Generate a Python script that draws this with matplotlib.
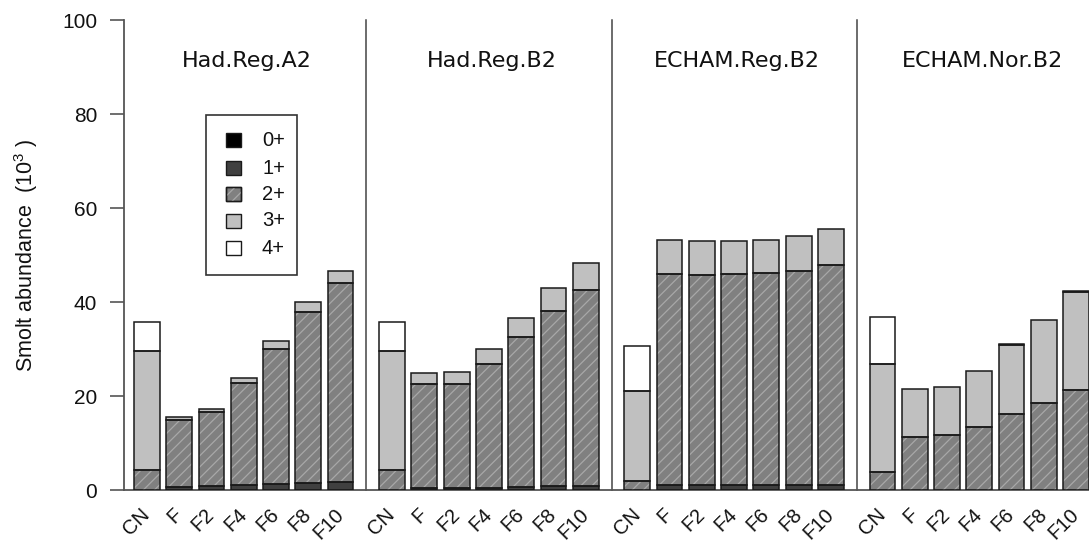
import matplotlib
matplotlib.use("Agg")
import matplotlib.pyplot as plt
from matplotlib.patches import Rectangle
import numpy as np

plt.rcParams['font.family'] = ['Liberation Sans', 'DejaVu Sans']
plt.rcParams['mathtext.fontset'] = 'custom'
plt.rcParams['mathtext.rm'] = 'Liberation Sans'
plt.rcParams['mathtext.it'] = 'Liberation Sans'
plt.rcParams['hatch.linewidth'] = 0.9

# ---------------- data ----------------
groups = ['Had.Reg.A2', 'Had.Reg.B2', 'ECHAM.Reg.B2', 'ECHAM.Nor.B2']
scenarios = ['CN', 'F', 'F2', 'F4', 'F6', 'F8', 'F10']
ages = ['0+', '1+', '2+', '3+', '4+']

# values per bar (4 groups x 7 scenarios), thousands of smolts
age0 = [0, 0.1, 0.1, 0.1, 0.1, 0.1, 0.1,
        0, 0.1, 0.1, 0.1, 0.1, 0.1, 0.1,
        0, 0.1, 0.1, 0.1, 0.1, 0.1, 0.1,
        0, 0, 0, 0, 0, 0, 0]
age1 = [0, 0.6, 0.75, 0.95, 1.2, 1.4, 1.6,
        0, 0.4, 0.4, 0.4, 0.6, 0.7, 0.8,
        0, 0.9, 0.9, 0.9, 0.9, 0.9, 0.9,
        0, 0, 0, 0, 0, 0, 0]
age2 = [4.3, 14.2, 15.65, 21.65, 28.8, 36.4, 42.3,
        4.3, 22.0, 22.1, 26.3, 31.8, 37.3, 41.6,
        2.0, 45.0, 44.7, 44.9, 45.1, 45.7, 46.9,
        3.8, 11.3, 11.6, 13.3, 16.1, 18.5, 21.2]
age3 = [25.3, 0.7, 0.8, 1.1, 1.5, 2.0, 2.5,
        25.3, 2.5, 2.5, 3.2, 4.0, 4.8, 5.7,
        19.1, 7.2, 7.3, 7.1, 7.1, 7.3, 7.7,
        23.0, 10.2, 10.3, 12.1, 14.8, 17.7, 20.9]
age4 = [6.1, 0, 0, 0, 0, 0, 0,
        6.1, 0, 0, 0, 0, 0, 0,
        9.6, 0, 0, 0, 0, 0, 0,
        10.0, 0, 0, 0, 0.2, 0, 0.2]

# ---------------- style ----------------
fills = ['#000000', '#404040', '#808080', '#c0c0c0', '#ffffff']
hatch_color = '#a8a8a8'
edge = '#1a1a1a'

W, H = 1089, 542
fig = plt.figure(figsize=(W / 100, H / 100), dpi=100)
ax = fig.add_axes([124 / W, 52 / H, 965 / W, 470 / H])

group_pitch = 7.6
bar_w = 0.8
xs = np.array([g * group_pitch + i for g in range(len(groups))
               for i in range(len(scenarios))], dtype=float)

series = [np.array(a, dtype=float) for a in (age0, age1, age2, age3, age4)]
bottom = np.zeros(len(xs))
for k, vals in enumerate(series):
    m = vals > 0
    ax.bar(xs[m], vals[m], bottom=bottom[m], width=bar_w,
           color=fills[k], linewidth=0, zorder=2)
    if k == 2:
        ax.bar(xs[m], vals[m], bottom=bottom[m], width=bar_w,
               facecolor='none', edgecolor=hatch_color, hatch='///',
               linewidth=0, zorder=3)
    ax.bar(xs[m], vals[m], bottom=bottom[m], width=bar_w,
           facecolor='none', edgecolor=edge, linewidth=1.1, zorder=4)
    bottom = bottom + vals

ax.set_xlim(-0.71, 29.2)
ax.set_ylim(0, 100)

# group separators
for g in range(1, len(groups)):
    ax.plot([g * group_pitch - 0.8] * 2, [0, 100], color='#444444',
            lw=1.1, zorder=1, clip_on=False)

# group titles (centred over each group of bars)
for g, name in enumerate(groups):
    ax.text(g * group_pitch + 3.1, 90.1, name, ha='center', va='baseline',
            fontsize=16, family='DejaVu Sans', color='#111111')

# x labels, rotated
for x, lab in zip(xs, scenarios * len(groups)):
    ax.text(x, -0.046, lab, transform=ax.get_xaxis_transform(),
            rotation=45, rotation_mode='anchor', ha='right', va='center',
            fontsize=14.5, color='#111111', clip_on=False)

# axes styling
for s in ('top', 'right'):
    ax.spines[s].set_visible(False)
ax.spines['left'].set_color('#555555')
ax.spines['left'].set_linewidth(1.3)
ax.spines['bottom'].set_color('#555555')
ax.spines['bottom'].set_linewidth(1.3)
ax.set_xticks([])
ax.set_yticks([0, 20, 40, 60, 80, 100])
ax.tick_params(axis='y', length=10, width=1.2, color='#555555', pad=9.4,
               labelsize=15, labelcolor='#111111')

fig.text(26 / W, 1 - 255 / H, r'Smolt abundance  (10$^{3}$ )', rotation=90,
         ha='center', va='center', fontsize=15.5, color='#111111')

# legend (manual)
def fx(p):
    return p / W


def fy(p):
    return 1 - p / H


fig.add_artist(Rectangle((fx(206), fy(275)), (297 - 206) / W, (275 - 115) / H,
                         transform=fig.transFigure, facecolor='white',
                         edgecolor='#333333', lw=1.2, zorder=5))
rows = [140, 168, 194, 221, 248]
for k, (lab, ry) in enumerate(zip(ages, rows)):
    fig.add_artist(Rectangle((fx(226), fy(ry + 7)), 15 / W, 14 / H,
                             transform=fig.transFigure, facecolor=fills[k],
                             edgecolor=edge, lw=1.0, zorder=6))
    if k == 2:
        fig.add_artist(Rectangle((fx(226), fy(ry + 7)), 15 / W, 14 / H,
                                 transform=fig.transFigure, facecolor='none',
                                 edgecolor=hatch_color, hatch='///', lw=0,
                                 zorder=7))
        fig.add_artist(Rectangle((fx(226), fy(ry + 7)), 15 / W, 14 / H,
                                 transform=fig.transFigure, facecolor='none',
                                 edgecolor=edge, lw=1.0, zorder=8))
    fig.text(fx(262), fy(ry), lab, ha='left', va='center', fontsize=14.5,
             color='#111111', zorder=9)

fig.savefig('out.png', dpi=100)
